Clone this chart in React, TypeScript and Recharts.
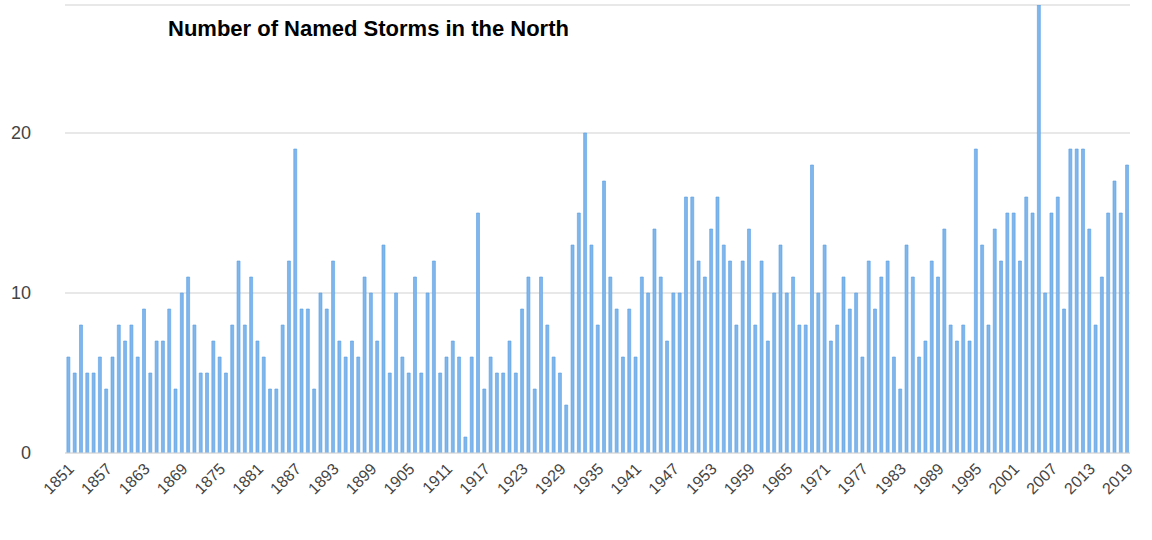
import { BarChart, Bar, XAxis, YAxis, CartesianGrid } from "recharts";

const startYear = 1851;
const storms = [
  6, 5, 8, 5, 5, 6, 4, 6, 8, 7, 8, 6, 9, 5, 7, 7, 9, 4, 10, 11,
  8, 5, 5, 7, 6, 5, 8, 12, 8, 11, 7, 6, 4, 4, 8, 12, 19, 9, 9, 4,
  10, 9, 12, 7, 6, 7, 6, 11, 10, 7, 13, 5, 10, 6, 5, 11, 5, 10, 12, 5,
  6, 7, 6, 1, 6, 15, 4, 6, 5, 5, 7, 5, 9, 11, 4, 11, 8, 6, 5, 3,
  13, 15, 20, 13, 8, 17, 11, 9, 6, 9, 6, 11, 10, 14, 11, 7, 10, 10, 16, 16,
  12, 11, 14, 16, 13, 12, 8, 12, 14, 8, 12, 7, 10, 13, 10, 11, 8, 8, 18, 10,
  13, 7, 8, 11, 9, 10, 6, 12, 9, 11, 12, 6, 4, 13, 11, 6, 7, 12, 11, 14,
  8, 7, 8, 7, 19, 13, 8, 14, 12, 15, 15, 12, 16, 15, 28, 10, 15, 16, 9, 19,
  19, 19, 14, 8, 11, 15, 17, 15, 18,
];
const yTicks = [0, 10, 20];

const data = storms.map((v, i) => ({ year: String(startYear + i), storms: v }));

function YearTick({ x, y, payload }: any) {
  return (
    <text
      x={x + 4}
      y={y + 6}
      transform={`rotate(-45, ${x + 4}, ${y + 6})`}
      textAnchor="end"
      dominantBaseline="middle"
      fontSize={16}
      fill="#444"
      fontFamily="Liberation Sans, Arial, sans-serif"
    >
      {payload.value}
    </text>
  );
}

export default function App() {
  return (
    <div style={{ position: "absolute", left: 0, top: 0, width: 1152, height: 540, background: "#fff" }}>
      <div
        style={{
          position: "absolute",
          left: 168,
          top: 16,
          fontFamily: "Liberation Sans, Arial, sans-serif",
          fontWeight: "bold",
          fontSize: 22,
          color: "#000",
        }}
      >
        Number of Named Storms in the North
      </div>
      <BarChart
        width={1152}
        height={540}
        data={data}
        margin={{ top: 5, right: 22, left: 0, bottom: 0 }}
        barCategoryGap="30%"
      >
        <CartesianGrid vertical={false} stroke="#e0e0e0" strokeWidth={1.5} />
        <XAxis
          dataKey="year"
          interval={5}
          height={87}
          tick={<YearTick />}
          tickLine={false}
          axisLine={{ stroke: "#ddd" }}
        />
        <YAxis
          width={65}
          domain={[0, 28]}
          ticks={yTicks}
          allowDataOverflow
          axisLine={false}
          tickLine={false}
          tick={{ fontSize: 18, fill: "#444", fontFamily: "Liberation Sans, Arial, sans-serif" }}
          tickMargin={28}
        />
        <Bar dataKey="storms" fill="#7fb6ec" stroke="#5b9fe3" strokeWidth={0.6} isAnimationActive={false} />
      </BarChart>
    </div>
  );
}
